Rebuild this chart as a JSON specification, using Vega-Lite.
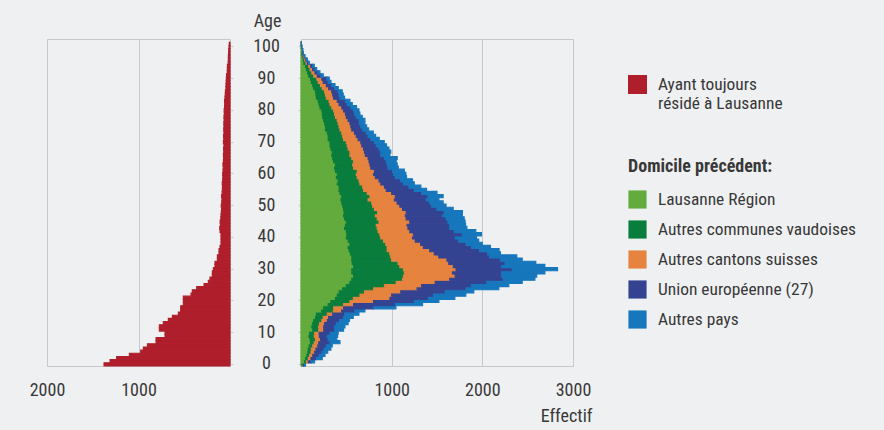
{
  "$schema": "https://vega.github.io/schema/vega-lite/v6.json",
  "background": "#eff0f2",
  "padding": {"left": 28, "top": 11, "right": 27, "bottom": 6},
  "bounds": "flush",
  "spacing": 71,
  "config": {
    "font": "Liberation Sans Narrow, Arial Narrow, Roboto Condensed, sans-serif",
    "view": {"stroke": "#c8c9cc", "strokeWidth": 1},
    "axis": {"labelFontSize": 18, "labelColor": "#383838", "titleColor": "#383838", "titleFontSize": 18, "titleFontWeight": "normal", "gridColor": "#c8c9cc", "tickColor": "#c8c9cc", "domain": false, "labelFlush": false, "labelOverlap": false},
    "legend": {"padding": 0, "labelFontSize": 17.4, "labelColor": "#383838", "titleColor": "#383838", "labelLimit": 400}
  },
  "resolve": {"scale": {"color": "independent"}, "legend": {"color": "independent"}},
  "hconcat": [
    {
      "width": 183,
      "height": 327,
      "data": {"values": [
        {"age":0,"n":1377},{"age":1,"n":1311},{"age":2,"n":1239},{"age":3,"n":1100},{"age":4,"n":976},{"age":5,"n":947},{"age":6,"n":903},{"age":7,"n":808},{"age":8,"n":808},{"age":9,"n":710},
        {"age":10,"n":710},{"age":11,"n":772},{"age":12,"n":772},{"age":13,"n":729},{"age":14,"n":674},{"age":15,"n":630},{"age":16,"n":565},{"age":17,"n":539},{"age":18,"n":539},{"age":19,"n":510},
        {"age":20,"n":510},{"age":21,"n":510},{"age":22,"n":426},{"age":23,"n":412},{"age":24,"n":364},{"age":25,"n":284},{"age":26,"n":237},{"age":27,"n":219},{"age":28,"n":193},{"age":29,"n":193},
        {"age":30,"n":182},{"age":31,"n":164},{"age":32,"n":164},{"age":33,"n":138},{"age":34,"n":138},{"age":35,"n":120},{"age":36,"n":120},{"age":37,"n":109},{"age":38,"n":98},{"age":39,"n":98},
        {"age":40,"n":98},{"age":41,"n":98},{"age":42,"n":109},{"age":43,"n":112},{"age":44,"n":105},{"age":45,"n":108},{"age":46,"n":100},{"age":47,"n":98},{"age":48,"n":95},{"age":49,"n":92},
        {"age":50,"n":96},{"age":51,"n":90},{"age":52,"n":88},{"age":53,"n":92},{"age":54,"n":86},{"age":55,"n":84},{"age":56,"n":82},{"age":57,"n":85},{"age":58,"n":80},{"age":59,"n":78},
        {"age":60,"n":80},{"age":61,"n":76},{"age":62,"n":74},{"age":63,"n":77},{"age":64,"n":72},{"age":65,"n":70},{"age":66,"n":72},{"age":67,"n":68},{"age":68,"n":70},{"age":69,"n":66},
        {"age":70,"n":72},{"age":71,"n":68},{"age":72,"n":70},{"age":73,"n":66},{"age":74,"n":68},{"age":75,"n":66},{"age":76,"n":67},{"age":77,"n":64},{"age":78,"n":66},{"age":79,"n":62},
        {"age":80,"n":64},{"age":81,"n":60},{"age":82,"n":58},{"age":83,"n":60},{"age":84,"n":55},{"age":85,"n":52},{"age":86,"n":50},{"age":87,"n":44},{"age":88,"n":44},{"age":89,"n":42},
        {"age":90,"n":40},{"age":91,"n":38},{"age":92,"n":30},{"age":93,"n":29},{"age":94,"n":28},{"age":95,"n":20},{"age":96,"n":18},{"age":97,"n":18},{"age":98,"n":16},{"age":99,"n":14},
        {"age":100,"n":11},{"age":101,"n":8}
      ]},
      "mark": {"type": "bar", "orient": "horizontal", "stroke": "#ae1e2b", "strokeWidth": 1.1},
      "encoding": {
        "y": {
          "field": "age", "type": "ordinal",
          "scale": {"domain": [102,101,100,99,98,97,96,95,94,93,92,91,90,89,88,87,86,85,84,83,82,81,80,79,78,77,76,75,74,73,72,71,70,69,68,67,66,65,64,63,62,61,60,59,58,57,56,55,54,53,52,51,50,49,48,47,46,45,44,43,42,41,40,39,38,37,36,35,34,33,32,31,30,29,28,27,26,25,24,23,22,21,20,19,18,17,16,15,14,13,12,11,10,9,8,7,6,5,4,3,2,1,0], "paddingInner": 0, "paddingOuter": 0},
          "axis": {"orient": "right", "values": [0,10,20,30,40,50,60,70,80,90,100], "grid": false, "ticks": true, "tickSize": 3, "labelAlign": "center", "labelPadding": 33, "title": "Age", "titleAngle": 0, "titleX": 37, "titleY": -18, "titleAlign": "center", "titleBaseline": "middle"}
        },
        "x": {
          "field": "n", "type": "quantitative",
          "scale": {"domain": [0, 2000], "reverse": true},
          "axis": {"values": [1000, 2000], "format": "d", "grid": true, "ticks": false, "tickSize": 0, "labelPadding": 15, "title": null}
        },
        "color": {
          "datum": "Ayant toujours résidé à Lausanne",
          "scale": {"range": ["#ae1e2b"]},
          "legend": {"orient": "none", "legendX": 581, "legendY": 36, "title": null, "symbolType": "square", "symbolSize": 360, "symbolStrokeWidth": 0, "labelOffset": 11, "labelExpr": "datum.label == 'Ayant toujours résidé à Lausanne' ? ['Ayant toujours', 'résidé à Lausanne'] : datum.label"}
        }
      }
    },
    {
      "width": 272,
      "height": 327,
      "data": {"values": [
        {"age":0,"Lausanne Région":11,"Autres communes vaudoises":15,"Autres cantons suisses":3,"Union européenne (27)":11,"Autres pays":10},
        {"age":1,"Lausanne Région":40,"Autres communes vaudoises":20,"Autres cantons suisses":20,"Union européenne (27)":35,"Autres pays":35},
        {"age":2,"Lausanne Région":50,"Autres communes vaudoises":30,"Autres cantons suisses":30,"Union européenne (27)":60,"Autres pays":65},
        {"age":3,"Lausanne Région":65,"Autres communes vaudoises":30,"Autres cantons suisses":35,"Union européenne (27)":70,"Autres pays":65},
        {"age":4,"Lausanne Région":75,"Autres communes vaudoises":35,"Autres cantons suisses":40,"Union européenne (27)":80,"Autres pays":65},
        {"age":5,"Lausanne Région":80,"Autres communes vaudoises":35,"Autres cantons suisses":50,"Union européenne (27)":90,"Autres pays":75},
        {"age":6,"Lausanne Région":90,"Autres communes vaudoises":40,"Autres cantons suisses":55,"Union européenne (27)":95,"Autres pays":65},
        {"age":7,"Lausanne Région":105,"Autres communes vaudoises":40,"Autres cantons suisses":50,"Union européenne (27)":125,"Autres pays":110},
        {"age":8,"Lausanne Région":100,"Autres communes vaudoises":60,"Autres cantons suisses":55,"Union européenne (27)":85,"Autres pays":95},
        {"age":9,"Lausanne Région":88,"Autres communes vaudoises":59,"Autres cantons suisses":55,"Union européenne (27)":88,"Autres pays":114},
        {"age":10,"Lausanne Région":95,"Autres communes vaudoises":55,"Autres cantons suisses":50,"Union européenne (27)":120,"Autres pays":90},
        {"age":11,"Lausanne Région":130,"Autres communes vaudoises":65,"Autres cantons suisses":55,"Union européenne (27)":120,"Autres pays":100},
        {"age":12,"Lausanne Région":120,"Autres communes vaudoises":75,"Autres cantons suisses":55,"Union européenne (27)":120,"Autres pays":115},
        {"age":13,"Lausanne Région":130,"Autres communes vaudoises":75,"Autres cantons suisses":55,"Union européenne (27)":130,"Autres pays":130},
        {"age":14,"Lausanne Région":140,"Autres communes vaudoises":90,"Autres cantons suisses":60,"Union européenne (27)":135,"Autres pays":110},
        {"age":15,"Lausanne Région":160,"Autres communes vaudoises":85,"Autres cantons suisses":60,"Union européenne (27)":165,"Autres pays":107},
        {"age":16,"Lausanne Région":170,"Autres communes vaudoises":120,"Autres cantons suisses":60,"Union européenne (27)":130,"Autres pays":159},
        {"age":17,"Lausanne Région":228,"Autres communes vaudoises":128,"Autres cantons suisses":92,"Union européenne (27)":147,"Autres pays":110},
        {"age":18,"Lausanne Région":250,"Autres communes vaudoises":110,"Autres cantons suisses":110,"Union européenne (27)":330,"Autres pays":247},
        {"age":19,"Lausanne Région":300,"Autres communes vaudoises":170,"Autres cantons suisses":110,"Union européenne (27)":460,"Autres pays":301},
        {"age":20,"Lausanne Région":330,"Autres communes vaudoises":210,"Autres cantons suisses":260,"Union européenne (27)":450,"Autres pays":271},
        {"age":21,"Lausanne Région":380,"Autres communes vaudoises":197,"Autres cantons suisses":404,"Union européenne (27)":422,"Autres pays":294},
        {"age":22,"Lausanne Région":400,"Autres communes vaudoises":250,"Autres cantons suisses":350,"Union européenne (27)":460,"Autres pays":358},
        {"age":23,"Lausanne Région":420,"Autres communes vaudoises":280,"Autres cantons suisses":400,"Union européenne (27)":490,"Autres pays":316},
        {"age":24,"Lausanne Région":460,"Autres communes vaudoises":340,"Autres cantons suisses":480,"Union européenne (27)":540,"Autres pays":362},
        {"age":25,"Lausanne Région":500,"Autres communes vaudoises":420,"Autres cantons suisses":410,"Union européenne (27)":550,"Autres pays":412},
        {"age":26,"Lausanne Région":540,"Autres communes vaudoises":510,"Autres cantons suisses":430,"Union européenne (27)":570,"Autres pays":390},
        {"age":27,"Lausanne Région":560,"Autres communes vaudoises":560,"Autres cantons suisses":520,"Union européenne (27)":590,"Autres pays":350},
        {"age":28,"Lausanne Région":580,"Autres communes vaudoises":550,"Autres cantons suisses":570,"Union européenne (27)":510,"Autres pays":390},
        {"age":29,"Lausanne Région":560,"Autres communes vaudoises":580,"Autres cantons suisses":530,"Union européenne (27)":540,"Autres pays":480},
        {"age":30,"Lausanne Région":560,"Autres communes vaudoises":570,"Autres cantons suisses":580,"Union européenne (27)":620,"Autres pays":500},
        {"age":31,"Lausanne Région":580,"Autres communes vaudoises":510,"Autres cantons suisses":590,"Union européenne (27)":530,"Autres pays":480},
        {"age":32,"Lausanne Région":565,"Autres communes vaudoises":505,"Autres cantons suisses":560,"Union européenne (27)":620,"Autres pays":340},
        {"age":33,"Lausanne Région":560,"Autres communes vaudoises":440,"Autres cantons suisses":610,"Union européenne (27)":590,"Autres pays":240},
        {"age":34,"Lausanne Région":560,"Autres communes vaudoises":430,"Autres cantons suisses":530,"Union européenne (27)":560,"Autres pays":300},
        {"age":35,"Lausanne Région":545,"Autres communes vaudoises":435,"Autres cantons suisses":490,"Union européenne (27)":590,"Autres pays":140},
        {"age":36,"Lausanne Région":530,"Autres communes vaudoises":420,"Autres cantons suisses":470,"Union européenne (27)":550,"Autres pays":215},
        {"age":37,"Lausanne Région":520,"Autres communes vaudoises":430,"Autres cantons suisses":400,"Union européenne (27)":530,"Autres pays":210},
        {"age":38,"Lausanne Région":540,"Autres communes vaudoises":395,"Autres cantons suisses":385,"Union européenne (27)":500,"Autres pays":180},
        {"age":39,"Lausanne Région":520,"Autres communes vaudoises":390,"Autres cantons suisses":350,"Union européenne (27)":480,"Autres pays":220},
        {"age":40,"Lausanne Région":500,"Autres communes vaudoises":380,"Autres cantons suisses":350,"Union européenne (27)":470,"Autres pays":236},
        {"age":41,"Lausanne Région":505,"Autres communes vaudoises":365,"Autres cantons suisses":370,"Union européenne (27)":540,"Autres pays":211},
        {"age":42,"Lausanne Région":500,"Autres communes vaudoises":350,"Autres cantons suisses":350,"Union européenne (27)":490,"Autres pays":238},
        {"age":43,"Lausanne Région":480,"Autres communes vaudoises":360,"Autres cantons suisses":340,"Union européenne (27)":460,"Autres pays":190},
        {"age":44,"Lausanne Région":490,"Autres communes vaudoises":340,"Autres cantons suisses":340,"Union européenne (27)":470,"Autres pays":175},
        {"age":45,"Lausanne Région":500,"Autres communes vaudoises":360,"Autres cantons suisses":340,"Union européenne (27)":420,"Autres pays":190},
        {"age":46,"Lausanne Région":480,"Autres communes vaudoises":360,"Autres cantons suisses":320,"Union européenne (27)":440,"Autres pays":200},
        {"age":47,"Lausanne Région":470,"Autres communes vaudoises":350,"Autres cantons suisses":330,"Union européenne (27)":410,"Autres pays":220},
        {"age":48,"Lausanne Région":475,"Autres communes vaudoises":370,"Autres cantons suisses":315,"Union européenne (27)":420,"Autres pays":201},
        {"age":49,"Lausanne Région":470,"Autres communes vaudoises":340,"Autres cantons suisses":310,"Union européenne (27)":380,"Autres pays":179},
        {"age":50,"Lausanne Région":460,"Autres communes vaudoises":330,"Autres cantons suisses":300,"Union européenne (27)":350,"Autres pays":160},
        {"age":51,"Lausanne Région":450,"Autres communes vaudoises":330,"Autres cantons suisses":280,"Union européenne (27)":360,"Autres pays":148},
        {"age":52,"Lausanne Région":440,"Autres communes vaudoises":300,"Autres cantons suisses":290,"Union européenne (27)":350,"Autres pays":141},
        {"age":53,"Lausanne Région":450,"Autres communes vaudoises":310,"Autres cantons suisses":280,"Union européenne (27)":360,"Autres pays":168},
        {"age":54,"Lausanne Région":430,"Autres communes vaudoises":300,"Autres cantons suisses":270,"Union européenne (27)":330,"Autres pays":170},
        {"age":55,"Lausanne Région":420,"Autres communes vaudoises":270,"Autres cantons suisses":250,"Union européenne (27)":310,"Autres pays":135},
        {"age":56,"Lausanne Région":420,"Autres communes vaudoises":260,"Autres cantons suisses":240,"Union européenne (27)":270,"Autres pays":132},
        {"age":57,"Lausanne Région":400,"Autres communes vaudoises":250,"Autres cantons suisses":230,"Union européenne (27)":250,"Autres pays":120},
        {"age":58,"Lausanne Région":410,"Autres communes vaudoises":230,"Autres cantons suisses":220,"Union européenne (27)":240,"Autres pays":130},
        {"age":59,"Lausanne Région":390,"Autres communes vaudoises":230,"Autres cantons suisses":200,"Union européenne (27)":220,"Autres pays":124},
        {"age":60,"Lausanne Région":400,"Autres communes vaudoises":210,"Autres cantons suisses":190,"Union européenne (27)":220,"Autres pays":137},
        {"age":61,"Lausanne Région":380,"Autres communes vaudoises":240,"Autres cantons suisses":190,"Union européenne (27)":200,"Autres pays":130},
        {"age":62,"Lausanne Région":370,"Autres communes vaudoises":210,"Autres cantons suisses":190,"Union européenne (27)":190,"Autres pays":113},
        {"age":63,"Lausanne Région":380,"Autres communes vaudoises":190,"Autres cantons suisses":190,"Union européenne (27)":190,"Autres pays":111},
        {"age":64,"Lausanne Région":360,"Autres communes vaudoises":220,"Autres cantons suisses":170,"Union européenne (27)":190,"Autres pays":110},
        {"age":65,"Lausanne Région":350,"Autres communes vaudoises":210,"Autres cantons suisses":180,"Union européenne (27)":180,"Autres pays":141},
        {"age":66,"Lausanne Région":340,"Autres communes vaudoises":200,"Autres cantons suisses":170,"Union européenne (27)":170,"Autres pays":101},
        {"age":67,"Lausanne Région":345,"Autres communes vaudoises":195,"Autres cantons suisses":160,"Union européenne (27)":180,"Autres pays":110},
        {"age":68,"Lausanne Région":330,"Autres communes vaudoises":190,"Autres cantons suisses":170,"Union européenne (27)":170,"Autres pays":110},
        {"age":69,"Lausanne Région":320,"Autres communes vaudoises":190,"Autres cantons suisses":160,"Union européenne (27)":160,"Autres pays":114},
        {"age":70,"Lausanne Région":320,"Autres communes vaudoises":180,"Autres cantons suisses":160,"Union européenne (27)":150,"Autres pays":108},
        {"age":71,"Lausanne Région":300,"Autres communes vaudoises":170,"Autres cantons suisses":160,"Union européenne (27)":140,"Autres pays":93},
        {"age":72,"Lausanne Région":300,"Autres communes vaudoises":160,"Autres cantons suisses":150,"Union européenne (27)":130,"Autres pays":83},
        {"age":73,"Lausanne Région":290,"Autres communes vaudoises":160,"Autres cantons suisses":140,"Union européenne (27)":130,"Autres pays":77},
        {"age":74,"Lausanne Région":270,"Autres communes vaudoises":160,"Autres cantons suisses":130,"Union européenne (27)":120,"Autres pays":66},
        {"age":75,"Lausanne Région":270,"Autres communes vaudoises":150,"Autres cantons suisses":130,"Union européenne (27)":110,"Autres pays":64},
        {"age":76,"Lausanne Région":260,"Autres communes vaudoises":150,"Autres cantons suisses":130,"Union européenne (27)":105,"Autres pays":60},
        {"age":77,"Lausanne Région":250,"Autres communes vaudoises":150,"Autres cantons suisses":120,"Union européenne (27)":120,"Autres pays":65},
        {"age":78,"Lausanne Région":240,"Autres communes vaudoises":140,"Autres cantons suisses":120,"Union européenne (27)":110,"Autres pays":66},
        {"age":79,"Lausanne Région":235,"Autres communes vaudoises":135,"Autres cantons suisses":120,"Union européenne (27)":100,"Autres pays":60},
        {"age":80,"Lausanne Région":230,"Autres communes vaudoises":130,"Autres cantons suisses":110,"Union européenne (27)":110,"Autres pays":60},
        {"age":81,"Lausanne Région":210,"Autres communes vaudoises":130,"Autres cantons suisses":110,"Union européenne (27)":100,"Autres pays":63},
        {"age":82,"Lausanne Région":200,"Autres communes vaudoises":120,"Autres cantons suisses":100,"Union européenne (27)":90,"Autres pays":56},
        {"age":83,"Lausanne Région":190,"Autres communes vaudoises":120,"Autres cantons suisses":90,"Union européenne (27)":90,"Autres pays":50},
        {"age":84,"Lausanne Région":170,"Autres communes vaudoises":110,"Autres cantons suisses":80,"Union européenne (27)":70,"Autres pays":50},
        {"age":85,"Lausanne Région":165,"Autres communes vaudoises":105,"Autres cantons suisses":80,"Union européenne (27)":70,"Autres pays":46},
        {"age":86,"Lausanne Région":160,"Autres communes vaudoises":100,"Autres cantons suisses":80,"Union européenne (27)":70,"Autres pays":45},
        {"age":87,"Lausanne Région":140,"Autres communes vaudoises":95,"Autres cantons suisses":70,"Union européenne (27)":65,"Autres pays":41},
        {"age":88,"Lausanne Région":130,"Autres communes vaudoises":85,"Autres cantons suisses":65,"Union européenne (27)":60,"Autres pays":35},
        {"age":89,"Lausanne Région":115,"Autres communes vaudoises":75,"Autres cantons suisses":55,"Union européenne (27)":55,"Autres pays":31},
        {"age":90,"Lausanne Région":105,"Autres communes vaudoises":70,"Autres cantons suisses":55,"Union européenne (27)":55,"Autres pays":27},
        {"age":91,"Lausanne Région":85,"Autres communes vaudoises":55,"Autres cantons suisses":40,"Union européenne (27)":40,"Autres pays":26},
        {"age":92,"Lausanne Région":72,"Autres communes vaudoises":48,"Autres cantons suisses":35,"Union européenne (27)":33,"Autres pays":21},
        {"age":93,"Lausanne Région":60,"Autres communes vaudoises":40,"Autres cantons suisses":28,"Union européenne (27)":27,"Autres pays":18},
        {"age":94,"Lausanne Région":50,"Autres communes vaudoises":35,"Autres cantons suisses":23,"Union européenne (27)":22,"Autres pays":17},
        {"age":95,"Lausanne Région":32,"Autres communes vaudoises":23,"Autres cantons suisses":15,"Union européenne (27)":12,"Autres pays":10},
        {"age":96,"Lausanne Région":25,"Autres communes vaudoises":17,"Autres cantons suisses":12,"Union européenne (27)":9,"Autres pays":7},
        {"age":97,"Lausanne Région":15,"Autres communes vaudoises":11,"Autres cantons suisses":8,"Union européenne (27)":6,"Autres pays":4},
        {"age":98,"Lausanne Région":9,"Autres communes vaudoises":7,"Autres cantons suisses":4,"Union européenne (27)":4,"Autres pays":2},
        {"age":99,"Lausanne Région":6,"Autres communes vaudoises":5,"Autres cantons suisses":4,"Union européenne (27)":3,"Autres pays":2},
        {"age":100,"Lausanne Région":3,"Autres communes vaudoises":2,"Autres cantons suisses":2,"Union européenne (27)":2,"Autres pays":2},
        {"age":101,"Lausanne Région":1,"Autres communes vaudoises":1,"Autres cantons suisses":1,"Union européenne (27)":1,"Autres pays":1}
      ]},
      "transform": [
        {"fold": ["Lausanne Région", "Autres communes vaudoises", "Autres cantons suisses", "Union européenne (27)", "Autres pays"], "as": ["cat", "n"]},
        {"lookup": "cat", "from": {"data": {"values": [
          {"cat": "Lausanne Région", "rank": 1},
          {"cat": "Autres communes vaudoises", "rank": 2},
          {"cat": "Autres cantons suisses", "rank": 3},
          {"cat": "Union européenne (27)", "rank": 4},
          {"cat": "Autres pays", "rank": 5}
        ]}, "key": "cat", "fields": ["rank"]}}
      ],
      "mark": {"type": "bar", "orient": "horizontal", "strokeWidth": 1.1},
      "encoding": {
        "y": {
          "field": "age", "type": "ordinal",
          "scale": {"domain": [102,101,100,99,98,97,96,95,94,93,92,91,90,89,88,87,86,85,84,83,82,81,80,79,78,77,76,75,74,73,72,71,70,69,68,67,66,65,64,63,62,61,60,59,58,57,56,55,54,53,52,51,50,49,48,47,46,45,44,43,42,41,40,39,38,37,36,35,34,33,32,31,30,29,28,27,26,25,24,23,22,21,20,19,18,17,16,15,14,13,12,11,10,9,8,7,6,5,4,3,2,1,0], "paddingInner": 0, "paddingOuter": 0},
          "axis": {"orient": "left", "values": [0,10,20,30,40,50,60,70,80,90,100], "grid": false, "ticks": true, "tickSize": 3, "labels": false, "title": null}
        },
        "x": {
          "field": "n", "type": "quantitative", "stack": "zero",
          "scale": {"domain": [0, 3000]},
          "axis": {"values": [1000, 2000, 3000], "format": "d", "grid": true, "ticks": false, "tickSize": 0, "labelPadding": 15, "title": "Effectif", "titleX": 291, "titleY": 50, "titleAlign": "right", "titleBaseline": "middle"}
        },
        "order": {"field": "rank", "type": "quantitative"},
        "color": {
          "field": "cat", "type": "nominal",
          "sort": ["Lausanne Région", "Autres communes vaudoises", "Autres cantons suisses", "Union européenne (27)", "Autres pays"],
          "scale": {"domain": ["Lausanne Région", "Autres communes vaudoises", "Autres cantons suisses", "Union européenne (27)", "Autres pays"], "range": ["#62ab3c", "#087d3c", "#e5833f", "#344391", "#1677bd"]},
          "legend": {"orient": "none", "legendX": 327, "legendY": 119, "title": "Domicile précédent:", "titleFontSize": 18, "titleFontWeight": "bold", "titlePadding": 14, "symbolType": "square", "symbolSize": 330, "symbolStrokeWidth": 0, "labelOffset": 11, "rowPadding": 11}
        },
        "stroke": {
          "field": "cat", "type": "nominal",
          "scale": {"domain": ["Lausanne Région", "Autres communes vaudoises", "Autres cantons suisses", "Union européenne (27)", "Autres pays"], "range": ["#62ab3c", "#087d3c", "#e5833f", "#344391", "#1677bd"]},
          "legend": null
        }
      }
    }
  ]
}
